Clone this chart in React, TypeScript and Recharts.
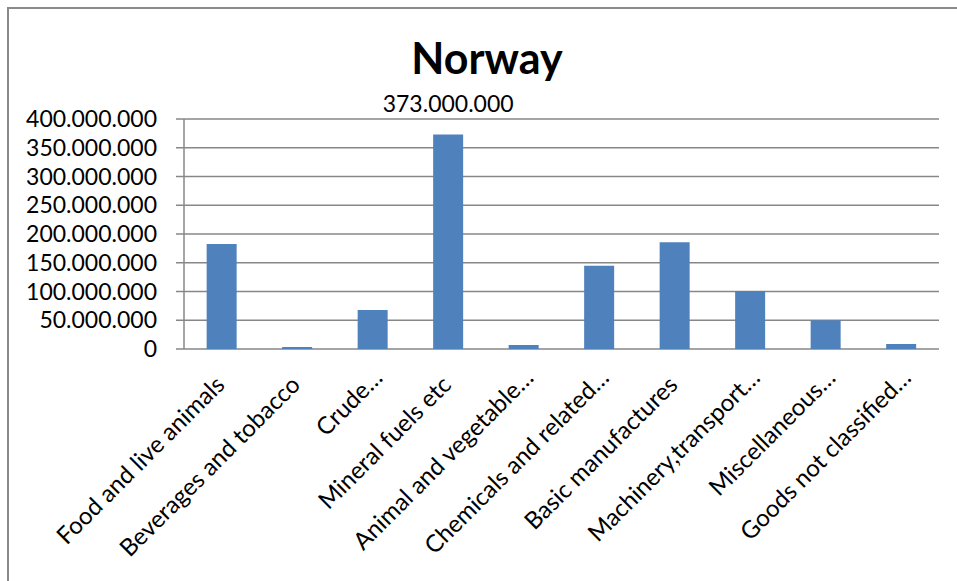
import React from "react";
import { BarChart, Bar, XAxis, YAxis, CartesianGrid, LabelList } from "recharts";

const categories = [
  "Food and live animals",
  "Beverages and tobacco",
  "Crude…",
  "Mineral fuels etc",
  "Animal and vegetable…",
  "Chemicals and related…",
  "Basic manufactures",
  "Machinery,transport…",
  "Miscellaneous…",
  "Goods not classified…",
];
const values = [182600000, 3500000, 68000000, 373000000, 7000000, 145000000, 185500000, 101000000, 50000000, 8700000];
const yTicks = [0, 50000000, 100000000, 150000000, 200000000, 250000000, 300000000, 350000000, 400000000];
const boundaryTicks = [0, 1, 2, 3, 4, 5, 6, 7, 8, 9, 10];
const labelledValue = 373000000;

const data = categories.map((name, i) => ({ name, value: values[i] }));

const fmt = (v: number) => String(Math.round(v)).replace(/\B(?=(\d{3})+(?!\d))/g, ".");

const FONT = "Lato, 'Open Sans', sans-serif";
const GRID = "#878787";

const BarLabel = (props: any) => {
  const { x, y, width, value } = props;
  if (value !== labelledValue) return null;
  return (
    <text x={x + width / 2} y={y - 23} textAnchor="middle" fontFamily={FONT} fontSize={23} fill="#000">
      {fmt(value)}
    </text>
  );
};

const XTick = (props: any) => {
  const { x, y, payload } = props;
  const truncated = String(payload.value).endsWith("…");
  const ex = truncated ? 7 : 0;
  return (
    <g transform={`translate(${x - 7 + ex},${y + 18 - ex})`}>
      <text
        x={0}
        y={0}
        dy={16}
        textAnchor="end"
        transform="rotate(-45)"
        fontFamily={FONT}
        fontSize={24}
        fill="#000"
      >
        {payload.value}
      </text>
    </g>
  );
};

export default function App() {
  return (
    <div style={{ position: "absolute", left: 0, top: 0, width: 957, height: 581, overflow: "hidden", background: "#fff" }}>
      <div
        style={{
          position: "absolute",
          left: 7,
          top: 7,
          width: 1000,
          height: 1000,
          border: "2px solid #8a8a8a",
        }}
      />
      <div
        style={{
          position: "absolute",
          left: 0,
          width: 974,
          top: 36,
          textAlign: "center",
          fontFamily: FONT,
          fontWeight: 700,
          fontSize: 43,
          lineHeight: "43px",
          color: "#000",
        }}
      >
        Norway
      </div>
      <div style={{ position: "absolute", left: 0, top: 0 }}>
        <BarChart
          width={957}
          height={581}
          data={data}
          margin={{ top: 119, right: 18, bottom: 12, left: 14 }}
          barCategoryGap="30%"
        >
          <CartesianGrid vertical={false} stroke={GRID} strokeWidth={1.5} />
          <XAxis
            xAxisId="ticks"
            type="number"
            domain={[0, 10]}
            ticks={boundaryTicks}
            allowDataOverflow
            height={0}
            tick={false}
            tickSize={7}
            tickLine={{ stroke: GRID, strokeWidth: 1.5 }}
            axisLine={{ stroke: GRID, strokeWidth: 1.5 }}
          />
          <XAxis
            xAxisId="cat"
            dataKey="name"
            interval={0}
            height={220}
            tickLine={false}
            axisLine={false}
            tick={<XTick />}
          />
          <YAxis
            width={170}
            domain={[0, 400000000]}
            ticks={yTicks}
            interval={0}
            tickFormatter={fmt}
            tickSize={8}
            tickMargin={19}
            tickLine={{ stroke: GRID, strokeWidth: 1.5 }}
            axisLine={{ stroke: GRID, strokeWidth: 1.5 }}
            tick={{ fontFamily: FONT, fontSize: 23, fill: "#000" }}
          />
          <Bar xAxisId="cat" dataKey="value" fill="#4F81BD" isAnimationActive={false}>
            <LabelList dataKey="value" content={<BarLabel />} />
          </Bar>
        </BarChart>
      </div>
    </div>
  );
}
